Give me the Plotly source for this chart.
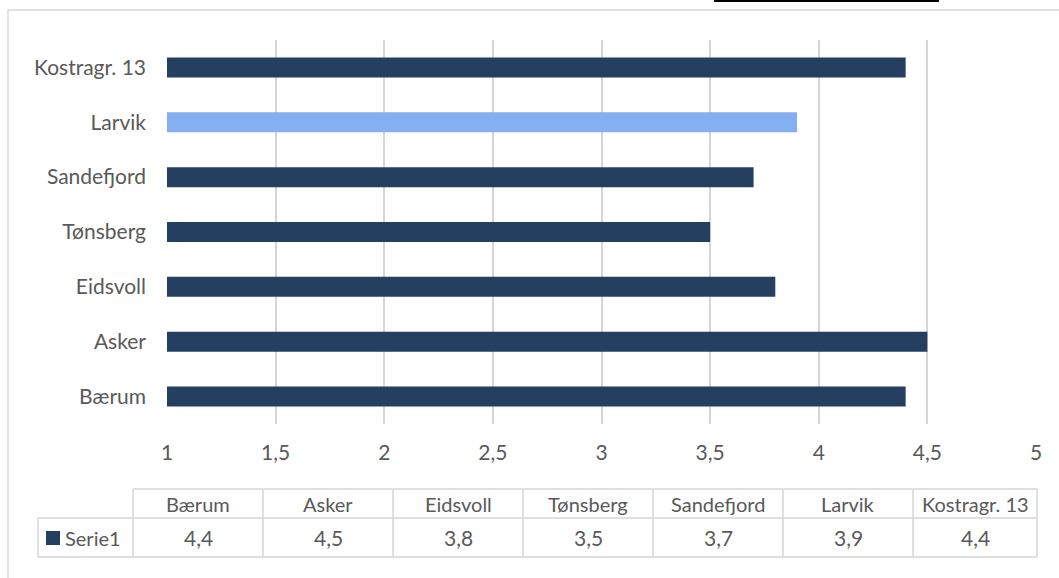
import plotly.graph_objects as go

categories = ["Bærum", "Asker", "Eidsvoll", "Tønsberg", "Sandefjord", "Larvik", "Kostragr. 13"]
values = [4.4, 4.5, 3.8, 3.5, 3.7, 3.9, 4.4]
series_name = "Serie1"
x_ticks = [1, 1.5, 2, 2.5, 3, 3.5, 4, 4.5, 5]
x_tick_labels = ["1", "1,5", "2", "2,5", "3", "3,5", "4", "4,5", "5"]
highlight = "Larvik"

DARK = "#243F60"
LIGHT = "#84AFF1"
GRID = "#D6D6D6"
TXT = "#595959"
FONT = "Lato"
FS = 21

W, H = 1059, 578
PL, PR, PT, PB = 167, 1036, 40, 424

def px(x):
    return (x - PL) / (PR - PL)

def py(y):
    return (PB - y) / (PB - PT)

colors = [LIGHT if c == highlight else DARK for c in categories]

fig = go.Figure()
fig.add_trace(go.Bar(
    x=values, y=categories, orientation="h",
    marker=dict(color=colors, line=dict(width=0)),
    name=series_name, showlegend=False, hoverinfo="x+y",
))

shapes = []
annotations = []

# outer chart border
shapes.append(dict(type="rect", xref="paper", yref="paper",
                   x0=px(8), x1=px(1070), y0=py(10), y1=py(600),
                   line=dict(color=GRID, width=1.3), fillcolor="rgba(0,0,0,0)", layer="below"))
# clipped black bar at top (part of cut-off heading)
shapes.append(dict(type="rect", xref="paper", yref="paper",
                   x0=px(714), x1=px(939), y0=py(-10), y1=py(2),
                   line=dict(width=0), fillcolor="black"))

# data table
col_edges = [133, 263, 393, 523, 653, 783, 913, 1037]
row_top, row_mid, row_bot = 489, 518, 557
label_left = 38
lc = dict(color=GRID, width=1.5)

def hline(x0, x1, y):
    shapes.append(dict(type="line", xref="paper", yref="paper",
                       x0=px(x0), x1=px(x1), y0=py(y), y1=py(y), line=lc))

def vline(x, y0, y1):
    shapes.append(dict(type="line", xref="paper", yref="paper",
                       x0=px(x), x1=px(x), y0=py(y0), y1=py(y1), line=lc))

hline(col_edges[0], col_edges[-1], row_top)
hline(label_left, col_edges[-1], row_mid)
hline(label_left, col_edges[-1], row_bot)
for xe in col_edges:
    vline(xe, row_top, row_bot)
vline(label_left, row_mid, row_bot)

for i, (c, v) in enumerate(zip(categories, values)):
    cx = (col_edges[i] + col_edges[i + 1]) / 2
    annotations.append(dict(xref="paper", yref="paper", x=px(cx), y=py((row_top + row_mid) / 2),
                            text=c, showarrow=False, xanchor="center", yanchor="middle",
                            font=dict(family=FONT, size=FS - 1, color=TXT)))
    annotations.append(dict(xref="paper", yref="paper", x=px(cx), y=py((row_mid + row_bot) / 2),
                            text=f"{v:.1f}".replace(".", ","), showarrow=False,
                            xanchor="center", yanchor="middle",
                            font=dict(family=FONT, size=FS, color=TXT)))

# legend key in table
shapes.append(dict(type="rect", xref="paper", yref="paper",
                   x0=px(46), x1=px(60), y0=py(545), y1=py(531),
                   line=dict(width=0), fillcolor=DARK))
annotations.append(dict(xref="paper", yref="paper", x=px(63), y=py((row_mid + row_bot) / 2),
                        text=series_name, showarrow=False, xanchor="left", yanchor="middle",
                        font=dict(family=FONT, size=FS - 1, color=TXT)))

fig.update_layout(
    width=W, height=H,
    margin=dict(l=PL, r=W - PR, t=PT, b=H - PB, pad=0),
    paper_bgcolor="white", plot_bgcolor="white",
    bargap=0.636,
    font=dict(family=FONT, size=FS, color=TXT),
    shapes=shapes, annotations=annotations,
    xaxis=dict(range=[1, 5], tickvals=x_ticks, ticktext=x_tick_labels,
               showgrid=True, gridcolor=GRID, gridwidth=1.5, zeroline=False,
               showline=False, ticks="", ticklabelstandoff=14,
               tickfont=dict(family=FONT, size=FS, color=TXT)),
    yaxis=dict(type="category", categoryorder="array", categoryarray=categories,
               showgrid=False, zeroline=False, showline=False, ticks="",
               ticklabelstandoff=20,
               tickfont=dict(family=FONT, size=FS, color=TXT)),
)

fig.write_html("out.html")
